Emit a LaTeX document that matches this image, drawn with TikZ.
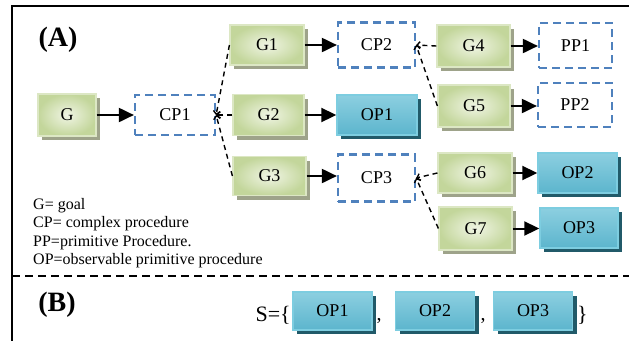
\documentclass[tikz,border=0pt]{standalone}
\usepackage{fontspec}
\setmainfont{Liberation Serif}
\usetikzlibrary{arrows.meta,shadows}
\definecolor{gedge}{HTML}{C3D69B}
\definecolor{gcenter}{HTML}{F0F5E4}
\definecolor{gborder}{HTML}{DCE7C4}
\definecolor{gshadow}{HTML}{9EA38A}
\definecolor{optop}{HTML}{8CCFE0}
\definecolor{opmid}{HTML}{46A8C3}
\definecolor{opbot}{HTML}{5CB5CD}
\definecolor{opborder}{HTML}{7DCDE0}
\definecolor{opshadow}{HTML}{215A69}
\definecolor{cpblue}{HTML}{4F81BD}
\tikzset{
  lbl/.style={font=\fontsize{18}{20}\selectfont, inner sep=0pt},
  gbox/.style={lbl, shade, inner color=gcenter, outer color=gedge, draw=gborder, line width=1.2pt,
    minimum width=72pt, minimum height=40pt,
    general shadow={shadow xshift=3.5pt, shadow yshift=-4pt, fill=gshadow}},
  opbox/.style={lbl, shade, top color=optop, middle color=opmid, bottom color=opbot, draw=opborder, line width=1.4pt,
    minimum width=78pt, minimum height=38pt,
    general shadow={shadow xshift=4pt, shadow yshift=-4pt, fill=opshadow}},
  cpbox/.style={lbl, draw=cpblue, line width=2.2pt, dash pattern=on 8pt off 5pt,
    minimum width=77pt, minimum height=44pt},
  solidarrow/.style={line width=2pt, -{Triangle[length=15pt,width=14pt]}},
  dasharrow/.style={line width=1.4pt, dash pattern=on 5pt off 4pt, -{Straight Barb[length=3pt,width=7pt]}},
  frameline/.style={line width=1.8pt},
  sepline/.style={line width=1.3pt, dash pattern=on 8pt off 5pt},
}
\begin{document}
\begin{tikzpicture}[x=1pt,y=-1pt]
\useasboundingbox (0,0) rectangle (629,341);
% frame
\draw[frameline] (629,6) -- (12,6) -- (12,341);
\draw[sepline] (12,276) -- (629,276);
% titles
\node[font=\bfseries\fontsize{28}{30}\selectfont] (titA) at (58,40) {(A)};
\node[font=\bfseries\fontsize{28}{30}\selectfont] (titB) at (57,305) {(B)};
% row nodes
\node[gbox, minimum width=58pt, minimum height=42pt] (G) at (67,115) {G};
\node[cpbox, minimum width=80pt, minimum height=40pt] (CP1) at (175,115) {CP1};
\node[gbox, minimum width=74pt] (G1) at (267,45) {G1};
\node[gbox, minimum width=71pt, minimum height=41pt] (G2) at (268.5,115) {G2};
\node[gbox, minimum width=73pt, minimum height=39pt] (G3) at (269.5,176) {G3};
\node[cpbox, minimum height=45pt] (CP2) at (376.5,45) {CP2};
\node[opbox, minimum width=80pt, minimum height=40pt] (OP1) at (377,115) {OP1};
\node[cpbox, minimum height=47pt] (CP3) at (376.5,178) {CP3};
\node[gbox, minimum width=73pt, minimum height=42pt] (G4) at (473.5,46) {G4};
\node[gbox, minimum width=72pt, minimum height=42pt] (G5) at (474,106) {G5};
\node[cpbox, minimum width=73pt, minimum height=45pt] (PP1) at (575.5,45.5) {PP1};
\node[cpbox, minimum width=74pt, minimum height=44pt] (PP2) at (575,105) {PP2};
\node[gbox, minimum width=74pt, minimum height=40pt] (G6) at (475,173) {G6};
\node[gbox, minimum width=73pt, minimum height=43pt] (G7) at (475.5,228.5) {G7};
\node[opbox, minimum width=79pt, minimum height=40pt] (OP2) at (577.5,173) {OP2};
\node[opbox, minimum width=78pt, minimum height=40pt] (OP3) at (579,228) {OP3};
% solid arrows
\draw[solidarrow] (G.east |- CP1.west) -- (CP1.west);
\draw[solidarrow] (G1.east) -- (CP2.west |- G1.east);
\draw[solidarrow] (G2.east) -- (OP1.west |- G2.east);
\draw[solidarrow] (G3.east) -- (CP3.west |- G3.east);
\draw[solidarrow] (G4.east) -- (PP1.west |- G4.east);
\draw[solidarrow] (G5.east) -- (PP2.west |- G5.east);
\draw[solidarrow] (G6.east) -- (OP2.west |- G6.east);
\draw[solidarrow] (G7.east) -- (OP3.west |- G7.east);
% dashed decomposition links
\draw[dasharrow] (G1.west) -- (CP1.east);
\draw[dasharrow] (G2.west) -- (CP1.east);
\draw[dasharrow] (G3.west) -- (CP1.east);
\draw[dasharrow] (G4.west) -- (CP2.east);
\draw[dasharrow] (G5.west) -- (CP2.east);
\draw[dasharrow] (G6.west) -- (CP3.east);
\draw[dasharrow] (G7.west) -- (CP3.east);
% legend
\node[anchor=north west, align=left, inner sep=0pt, font=\fontsize{16}{18.5}\selectfont] (legend) at (33,198)
  {G= goal\\CP= complex procedure\\PP=primitive Procedure.\\OP=observable primitive procedure};
% part B
\node[lbl, font=\fontsize{22}{24}\selectfont, anchor=base east] (S) at (291,321) {S=\{};
\node[opbox, minimum width=79pt] (SOP1) at (332.5,311) {OP1};
\node[lbl, font=\fontsize{20}{22}\selectfont, anchor=base] (c1) at (379,320) {,};
\node[opbox, minimum width=79pt] (SOP2) at (435,311) {OP2};
\node[lbl, font=\fontsize{20}{22}\selectfont, anchor=base] (c2) at (483,320) {,};
\node[opbox, minimum width=79pt] (SOP3) at (533,311) {OP3};
\node[lbl, font=\fontsize{22}{24}\selectfont, anchor=base west] (rb) at (577,321) {\}};
\end{tikzpicture}
\end{document}
